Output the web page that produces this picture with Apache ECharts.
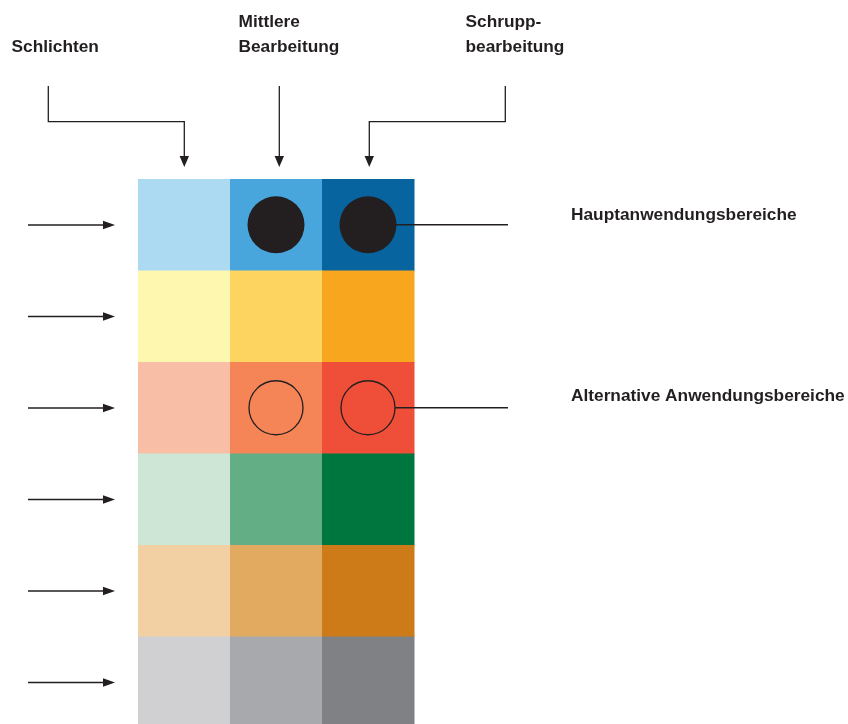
<!DOCTYPE html>
<html>
<head>
<meta charset="utf-8">
<style>
  html, body { margin: 0; padding: 0; background: #ffffff; }
  #chart { width: 848px; height: 724px; }
</style>
<script src="https://cdn.jsdelivr.net/npm/echarts@6/dist/echarts.min.js"></script>
</head>
<body>
<div id="chart"></div>
<script>
// Columns (machining types) and rows (ISO material groups, not labelled in the picture)
const columns = ['Schlichten', 'Mittlere Bearbeitung', 'Schruppbearbeitung'];
const rows = ['P', 'M', 'K', 'N', 'S', 'H'];

// Cell colours per row, left to right
const rowP = ['#acdaf3', '#49a6dc', '#07649f'];
const rowM = ['#fef7b0', '#fdd45f', '#f8a61e'];
const rowK = ['#f9bea6', '#f58457', '#ef4e38'];
const rowN = ['#cde6d6', '#63ae84', '#00763f'];
const rowS = ['#f3d0a4', '#e2aa60', '#cd7a18'];
const rowH = ['#d0d0d2', '#a8a9ad', '#808184'];
const cellColors = [rowP, rowM, rowK, rowN, rowS, rowH];

// Main (filled) and alternative (hollow) application areas: [column, row]
const mainUse = [[1, 0], [2, 0]];
const altUse = [[1, 2], [2, 2]];

// Label texts
const topLabels = [['Schlichten'], ['Mittlere', 'Bearbeitung'], ['Schrupp-', 'bearbeitung']];
const legendMain = 'Hauptanwendungsbereiche';
const legendAlt = 'Alternative Anwendungsbereiche';

const cellData = [];
rows.forEach(function (r, ri) {
  columns.forEach(function (c, ci) {
    cellData.push([ci, ri, cellColors[ri][ci]]);
  });
});

const ink = '#231f20';
const fontFamily = '"Liberation Sans", Arial, sans-serif';

const chart = echarts.init(document.getElementById('chart'), null, { renderer: 'canvas' });

const option = {
  animation: false,
  backgroundColor: '#ffffff',
  grid: { left: 138, top: 179, width: 276, height: 549, outerBoundsMode: 'none', containLabel: false },
  xAxis: {
    type: 'category', data: columns,
    axisLine: { show: false }, axisTick: { show: false }, axisLabel: { show: false }, splitLine: { show: false }
  },
  yAxis: {
    type: 'category', data: rows, inverse: true,
    axisLine: { show: false }, axisTick: { show: false }, axisLabel: { show: false }, splitLine: { show: false }
  },
  series: [
    {
      type: 'custom',
      data: cellData,
      encode: { x: 0, y: 1 },
      clip: false,
      renderItem: function (params, api) {
        const p = api.coord([api.value(0), api.value(1)]);
        const s = api.size([1, 1]);
        return {
          type: 'rect',
          shape: { x: p[0] - s[0] / 2, y: p[1] - s[1] / 2, width: s[0] + 0.5, height: s[1] + 0.5 },
          style: { fill: cellData[params.dataIndex][2] }
        };
      },
      z: 1
    },
    {
      type: 'scatter',
      data: mainUse,
      symbol: 'circle',
      symbolSize: 57,
      itemStyle: { color: ink, opacity: 1 },
      z: 3
    },
    {
      type: 'scatter',
      data: altUse,
      symbol: 'circle',
      symbolSize: 54,
      itemStyle: { color: 'rgba(0,0,0,0)', borderColor: ink, borderWidth: 1.3, opacity: 1 },
      z: 3
    }
  ]
};
chart.setOption(option);

// Annotation graphics (arrows, connector lines, labels)
const g = [];
function line(points) {
  g.push({ type: 'polyline', shape: { points: points }, style: { stroke: ink, lineWidth: 1.3, fill: null }, z: 10 });
}
function arrowDown(x, y) {
  g.push({ type: 'polygon', shape: { points: [[x, y], [x - 4.7, y - 11], [x + 4.7, y - 11]] }, style: { fill: ink }, z: 10 });
}
function arrowRight(x, y) {
  g.push({ type: 'polygon', shape: { points: [[x, y], [x - 12, y - 4.3], [x - 12, y + 4.3]] }, style: { fill: ink }, z: 10 });
}
function text(x, y, str) {
  g.push({ type: 'text', x: x, y: y, style: { text: str, font: 'bold 17.3px ' + fontFamily, fill: ink, verticalAlign: 'middle', align: 'left' }, z: 10 });
}

// Top labels (y = visual middle of the line)
text(11.5, 47, topLabels[0][0]);
text(238.5, 22.5, topLabels[1][0]);
text(238.5, 47, topLabels[1][1]);
text(465.5, 22.5, topLabels[2][0]);
text(465.5, 47, topLabels[2][1]);

// Top connectors
const tipY = 167;
line([[48.3, 86], [48.3, 121.7], [184.3, 121.7], [184.3, tipY - 8]]);
arrowDown(184.3, tipY);
line([[279.3, 86], [279.3, tipY - 8]]);
arrowDown(279.3, tipY);
line([[505.3, 86], [505.3, 121.7], [369.3, 121.7], [369.3, tipY - 8]]);
arrowDown(369.3, tipY);

// Left arrows at every row
rows.forEach(function (r, ri) {
  const p = chart.convertToPixel({ gridIndex: 0 }, [0, ri]);
  const y = Math.round(p[1] * 2) / 2;
  line([[28, y], [108, y]]);
  arrowRight(115, y);
});

// Legend connectors from the rightmost symbols
const pm = chart.convertToPixel({ gridIndex: 0 }, mainUse[1]);
line([[pm[0] + 27, pm[1]], [508, pm[1]]]);
text(571, pm[1] - 10, legendMain);
const pa = chart.convertToPixel({ gridIndex: 0 }, altUse[1]);
line([[pa[0] + 27, pa[1]], [508, pa[1]]]);
text(571, pa[1] - 12, legendAlt);

chart.setOption({ graphic: { elements: g } });
</script>
</body>
</html>
